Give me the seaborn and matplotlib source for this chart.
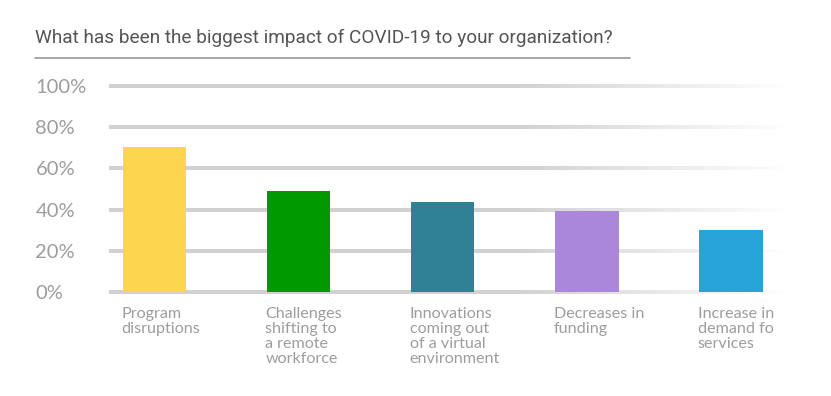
import numpy as np
import pandas as pd
import matplotlib
matplotlib.use("Agg")
import matplotlib.pyplot as plt
import matplotlib.transforms as mtransforms
from matplotlib.collections import LineCollection
import seaborn as sns

# Survey answers (share of respondents, %)
categories = [
    "Program\ndisruptions",
    "Challenges\nshifting to\na remote\nworkforce",
    "Innovations\ncoming out\nof a virtual\nenvironment",
    "Decreases in\nfunding",
    "Increase in\ndemand fo\nservices",
]
values = [70.4, 49.2, 43.7, 39.4, 30.0]
bar_colors = ["#fdd54e", "#009a00", "#2f8195", "#ab87dc", "#28a3d9"]
y_ticks = [0, 20, 40, 60, 80, 100]
y_labels = ["0%", "20%", "40%", "60%", "80%", "100%"]
title = "What has been the biggest impact of COVID-19 to your organization?"

df = pd.DataFrame({"category": categories, "value": values})

sns.set_style("white")
plt.rcParams["font.family"] = ["Lato", "DejaVu Sans"]

W, H = 831, 396
fig = plt.figure(figsize=(W / 100, H / 100), dpi=100)
ax = fig.add_axes([109 / W, 1 - 292 / H, (790 - 109) / W, 206 / H])

bar_w = 0.44
sns.barplot(data=df, x="category", y="value", hue="category",
            palette=bar_colors, legend=False, width=bar_w,
            saturation=1, ax=ax, zorder=3, linewidth=0)

x0, x1 = -0.316, 4.41
ax.set_xlim(x0, x1)
ax.set_ylim(0, 100)

# gridlines: solid grey, then blending into white towards the right
grey = 0.82
xs = np.linspace(x0, x1, 160)
frac = (xs[:-1] - x0) / (x1 - x0)
w = np.clip((frac - 0.6) / 0.4, 0, 1)
shade = grey + (1 - grey) * w
cols = [(s, s, s, 1.0) for s in shade]
for t in y_ticks:
    segs = [[(xs[i], t), (xs[i + 1], t)] for i in range(len(xs) - 1)]
    lc = LineCollection(segs, colors=cols, linewidths=1.5, zorder=1,
                        capstyle="butt", antialiased=False, clip_on=False)
    ax.add_collection(lc)

for s in ax.spines.values():
    s.set_visible(False)

ax.set_yticks(y_ticks)
ax.set_yticklabels(y_labels)
ax.tick_params(axis="y", length=0, pad=53, labelsize=14.5, labelcolor="#9d9d9d")
for lab in ax.get_yticklabels():
    lab.set_horizontalalignment("left")

ax.set_xticks([])
ax.set_xlabel("")
ax.set_ylabel("")

trans = mtransforms.blended_transform_factory(ax.transData, ax.transAxes)
for i, lab in enumerate(categories):
    ax.text(i - bar_w / 2 - 0.01, -0.075, lab, transform=trans, ha="left",
            va="top", fontsize=11.6, color="#9d9d9d", linespacing=1.08)

fig.text(35 / W, 1 - 38 / H, title, ha="left", va="center",
         fontsize=13.7, color="#555555", family=["Roboto", "DejaVu Sans"])
fig.add_artist(plt.Line2D([35 / W, 630 / W], [1 - 58 / H, 1 - 58 / H],
                          color="#9a9a9a", linewidth=1.2,
                          transform=fig.transFigure))

fig.savefig("out.png", dpi=100)
